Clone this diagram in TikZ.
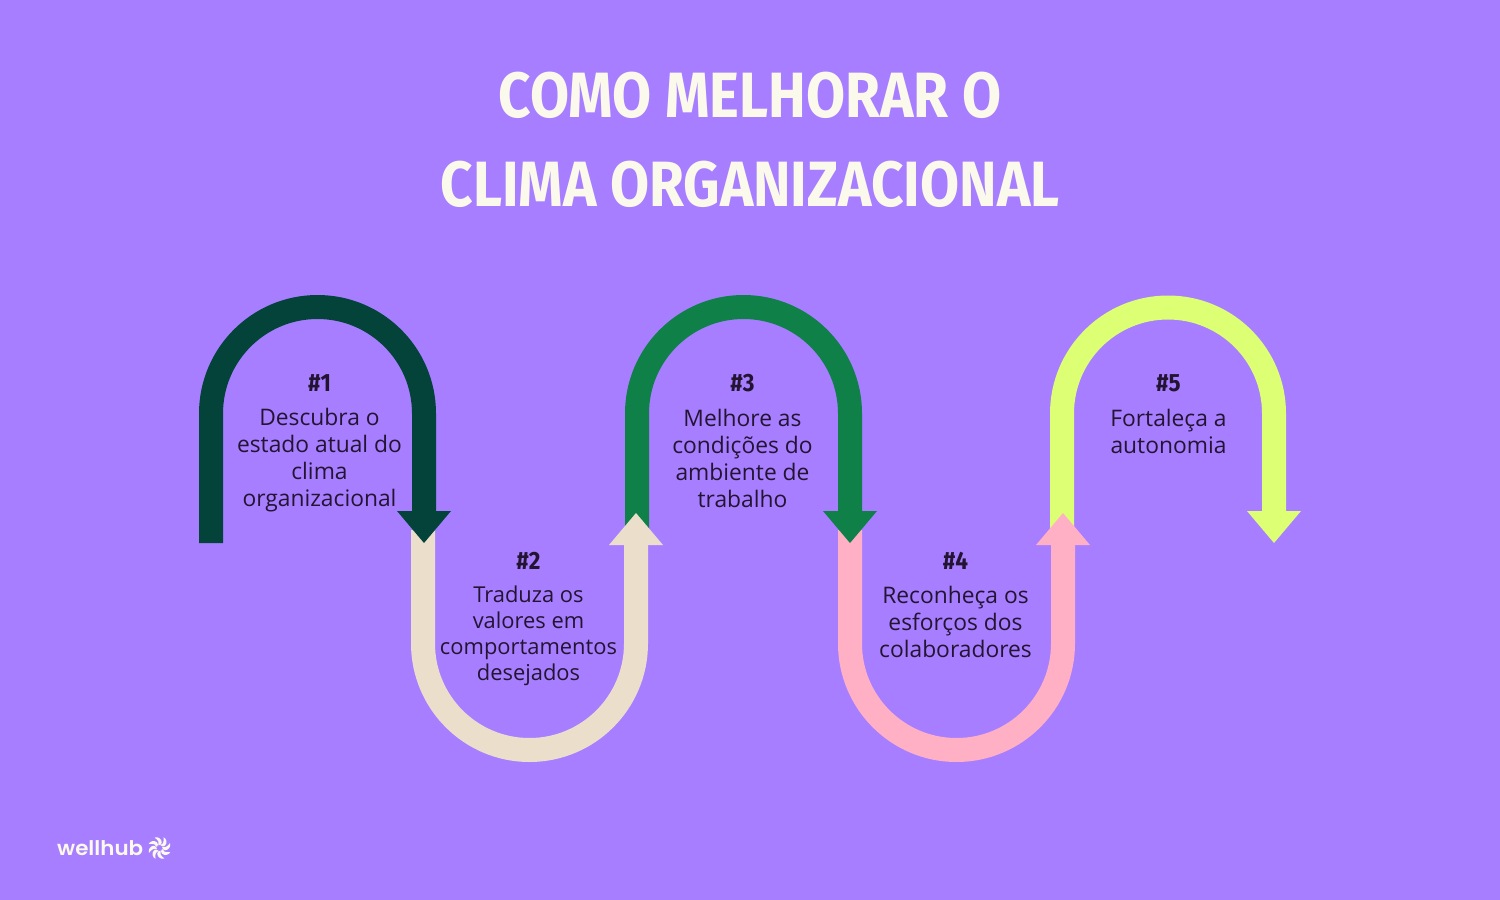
\documentclass[tikz,border=0pt]{standalone}
\usepackage{fontspec}
\setmainfont{Open Sans}
\newfontfamily\titlefont[FakeStretch=0.885]{Fira Sans Bold}
\newfontfamily\headfont[FakeStretch=0.9]{Fira Sans Bold}
\newfontfamily\logofont[FakeStretch=1.06]{Poppins SemiBold}
\definecolor{bgv}{HTML}{A77EFF}
\definecolor{cream}{HTML}{FBF8EC}
\definecolor{ink}{HTML}{231432}
\definecolor{dkgreen}{HTML}{04433A}
\definecolor{beige}{HTML}{EBDFCC}
\definecolor{midgreen}{HTML}{0E8048}
\definecolor{pinkish}{HTML}{FFB0C4}
\definecolor{lime}{HTML}{DCFF73}
\tikzset{
  band/.style={line width=24pt,line cap=butt},
  titletext/.style={anchor=base,text=cream,inner sep=0pt,font=\fontsize{64}{64}\selectfont\titlefont},
  numtext/.style={anchor=center,text=ink,inner sep=0pt,font=\fontsize{25}{25}\selectfont\headfont},
  bodytext/.style={anchor=north,text=ink,inner sep=0pt,align=center,font=\fontsize{22.8}{27}\selectfont},
  bodysmall/.style={bodytext,font=\fontsize{21.9}{26}\selectfont},
}
\begin{document}
\begin{tikzpicture}[x=1pt,y=-1pt]
\useasboundingbox (0,0) rectangle (1500,900);
\fill[bgv] (0,0) rectangle (1500,900);
% arrows, back to front
\draw[band,lime] (1062,532) -- (1062,413.5) arc[start angle=180,end angle=0,radius=106pt] -- (1274,520);
\fill[lime] (1247,511) -- (1301,511) -- (1274,543) -- cycle;
\draw[band,pinkish] (850,530) -- (850,643.5) arc[start angle=180,end angle=360,radius=106.5pt] -- (1063,535);
\fill[pinkish] (1036,545) -- (1090,545) -- (1063,513) -- cycle;
\draw[band,midgreen] (637,532) -- (637,413.5) arc[start angle=180,end angle=0,radius=106.5pt] -- (850,520);
\fill[midgreen] (823,511) -- (877,511) -- (850,543) -- cycle;
\draw[band,beige] (423,530) -- (423,643.5) arc[start angle=180,end angle=360,radius=106.5pt] -- (636,535);
\fill[beige] (609,545) -- (663,545) -- (636,513) -- cycle;
\draw[band,dkgreen] (211,543) -- (211,413.5) arc[start angle=180,end angle=0,radius=106.5pt] -- (424,520);
\fill[dkgreen] (397,511) -- (451,511) -- (424,543) -- cycle;
% title
\node[titletext] (t1) at (750,117) {COMO MELHORAR O};
\node[titletext] (t2) at (750,206) {CLIMA ORGANIZACIONAL};
% labels
\node[numtext] (n1) at (319.5,383) {\#1};
\node[bodytext] (b1) at (319.5,408) {Descubra o\\estado atual do\\clima\\organizacional};
\node[numtext] (n2) at (528.5,561) {\#2};
\node[bodysmall] (b2) at (528.5,586) {Traduza os\\valores em\\comportamentos\\desejados};
\node[numtext] (n3) at (742.5,383) {\#3};
\node[bodytext] (b3) at (742.5,409) {Melhore as\\condições do\\ambiente de\\trabalho};
\node[numtext] (n4) at (955.5,561) {\#4};
\node[bodytext] (b4) at (955.5,586) {Reconheça os\\esforços dos\\colaboradores};
\node[numtext] (n5) at (1168.5,383) {\#5};
\node[bodytext] (b5) at (1168.5,409) {Fortaleça a\\autonomia};
% logo
\node[anchor=base west,text=cream,inner sep=0pt,font=\fontsize{20.2}{21}\selectfont\logofont] (logo) at (57,855) {wellhub};
\foreach \a in {0,45,...,315}{
  \fill[cream,shift={(159.5,848)},rotate=\a]
    (1,-2.6) .. controls (3.5,-3.2) and (4.6,-6) .. (4,-10.8)
    .. controls (7,-9.6) and (8,-5) .. (5.6,-2.4)
    .. controls (4.4,-1.2) and (2.4,-1.2) .. cycle;
}
\end{tikzpicture}
\end{document}
